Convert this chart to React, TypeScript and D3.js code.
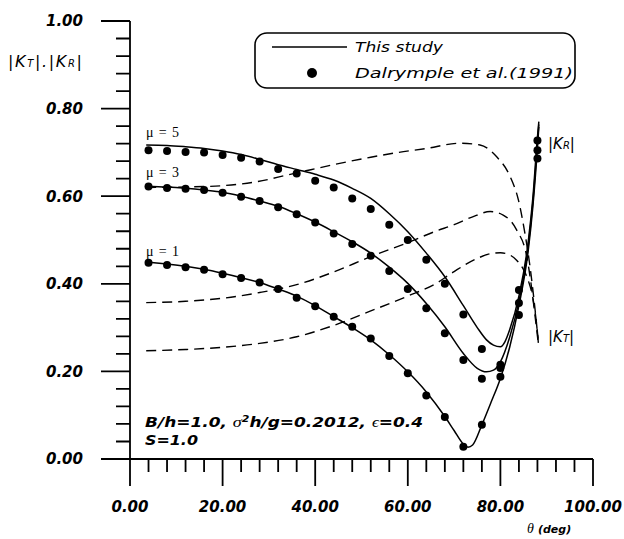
import React from "react";
import * as d3 from "d3";

// Dalrymple et al. (1991) measured points, every 4 degrees
const dotTheta = [4, 8, 12, 16, 20, 24, 28, 32, 36, 40, 44, 48, 52, 56, 60, 64, 68, 72, 76, 80, 84, 88];
const dotsMu1 = [0.448, 0.443, 0.438, 0.432, 0.422, 0.413, 0.403, 0.388, 0.368, 0.349, 0.325, 0.302, 0.275, 0.235, 0.196, 0.145, 0.096, 0.028, 0.078, 0.188, 0.329, 0.686];
const dotsMu3 = [0.622, 0.619, 0.617, 0.614, 0.608, 0.599, 0.589, 0.575, 0.559, 0.540, 0.515, 0.491, 0.464, 0.429, 0.388, 0.344, 0.287, 0.226, 0.183, 0.208, 0.356, 0.705];
const dotsMu5 = [0.705, 0.703, 0.701, 0.700, 0.694, 0.688, 0.679, 0.662, 0.652, 0.635, 0.620, 0.595, 0.571, 0.535, 0.500, 0.455, 0.400, 0.330, 0.251, 0.215, 0.386, 0.727];

// This study, |K_R| (solid)
const krTheta1 = [3.5, 8, 12, 16, 20, 24, 28, 32, 36, 40, 44, 48, 52, 56, 60, 64, 68, 70, 72, 73, 74, 76, 78, 80, 82, 84, 86, 87, 88, 88.3];
const krMu1 = [0.450, 0.445, 0.440, 0.433, 0.424, 0.414, 0.403, 0.388, 0.372, 0.350, 0.325, 0.300, 0.272, 0.238, 0.199, 0.153, 0.097, 0.065, 0.034, 0.027, 0.032, 0.078, 0.130, 0.184, 0.255, 0.350, 0.475, 0.575, 0.710, 0.758];
const krTheta3 = [3.5, 8, 12, 16, 20, 24, 28, 32, 36, 40, 44, 48, 52, 56, 60, 64, 68, 72, 75, 77, 78.5, 80, 82, 84, 86, 87, 88, 88.3];
const krMu3 = [0.623, 0.621, 0.618, 0.614, 0.609, 0.600, 0.589, 0.577, 0.560, 0.541, 0.519, 0.496, 0.470, 0.438, 0.401, 0.355, 0.302, 0.241, 0.207, 0.199, 0.203, 0.222, 0.278, 0.360, 0.485, 0.585, 0.722, 0.764];
const krTheta5 = [3.5, 8, 12, 16, 20, 24, 28, 32, 36, 40, 44, 48, 52, 56, 60, 64, 68, 72, 75, 77, 78.5, 80, 81, 82, 84, 86, 87, 88, 88.3];
const krMu5 = [0.717, 0.716, 0.713, 0.709, 0.703, 0.695, 0.684, 0.672, 0.661, 0.650, 0.637, 0.618, 0.595, 0.560, 0.519, 0.470, 0.416, 0.350, 0.300, 0.272, 0.260, 0.256, 0.268, 0.295, 0.372, 0.495, 0.595, 0.735, 0.770];

// This study, |K_T| (dashed)
const ktThetaLow = [3.5, 12, 20, 28, 36, 44, 52, 60, 66, 70, 75, 78, 80, 82, 83.5, 85, 86, 87, 87.8, 88.2];
const ktLow = [0.247, 0.250, 0.255, 0.264, 0.279, 0.305, 0.338, 0.372, 0.400, 0.428, 0.458, 0.469, 0.471, 0.466, 0.454, 0.432, 0.408, 0.368, 0.310, 0.268];
const ktThetaMid = [3.5, 12, 20, 28, 36, 44, 52, 60, 66, 70, 74, 77.8, 80.6, 83.5, 85.7, 86.8, 87.5, 88.1];
const ktMid = [0.357, 0.360, 0.367, 0.380, 0.398, 0.427, 0.462, 0.494, 0.520, 0.535, 0.553, 0.565, 0.557, 0.523, 0.462, 0.386, 0.325, 0.272];
const ktThetaHigh = [3.5, 12, 20, 27.4, 33.8, 38, 44, 52, 58, 64, 71.3, 75.6, 79.2, 82.1, 83.9, 85.3, 86.4, 87.1, 87.7, 88.2];
const ktHigh = [0.620, 0.621, 0.624, 0.633, 0.648, 0.658, 0.672, 0.689, 0.700, 0.709, 0.721, 0.717, 0.690, 0.645, 0.591, 0.515, 0.439, 0.378, 0.320, 0.265];

const xTickLabels = ["0.00", "20.00", "40.00", "60.00", "80.00", "100.00"];
const yTickLabels = ["0.00", "0.20", "0.40", "0.60", "0.80", "1.00"];

const muLabels = [
  { text: "\u03bc = 5", y: 137 },
  { text: "\u03bc = 3", y: 177 },
  { text: "\u03bc = 1", y: 256 },
];

const W = 624;
const H = 539;

const x = d3.scaleLinear().domain([0, 100]).range([130, 593]);
const y = d3.scaleLinear().domain([0, 1]).range([459, 21]);

const pairs = (t: number[], v: number[]) => t.map((d, i) => [d, v[i]] as [number, number]);

const curve = d3
  .line<[number, number]>()
  .x((d) => x(d[0]))
  .y((d) => y(d[1]))
  .curve(d3.curveMonotoneX);

const sansB = "'DejaVu Sans', sans-serif";

export default function App() {
  const xTicks = d3.range(0, 26).map((i) => i * 4);
  const yTicks = d3.range(0, 26).map((i) => i * 0.04);
  const solids = [pairs(krTheta1, krMu1), pairs(krTheta3, krMu3), pairs(krTheta5, krMu5)];
  const dashes = [pairs(ktThetaLow, ktLow), pairs(ktThetaMid, ktMid), pairs(ktThetaHigh, ktHigh)];
  const dots = [dotsMu1, dotsMu3, dotsMu5];

  // axis lines and ticks in one path
  const x0 = x(0);
  const y0 = y(0);
  let axisPath = `M${x0},${y(1)}V${y0}H${x(100)}`;
  yTicks.forEach((t, i) => {
    axisPath += `M${x0 - (i % 5 === 0 ? 29 : 14)},${y(t)}H${x0}`;
  });
  xTicks.forEach((t, i) => {
    axisPath += `M${x(t)},${y0}V${y0 + (i % 5 === 0 ? 27 : 13)}`;
  });

  return (
    <svg
      width={W}
      height={H}
      style={{ position: "absolute", left: 0, top: 0, background: "#fff" }}
    >
      <rect width={W} height={H} fill="#fff" />

      <path d={axisPath} fill="none" stroke="#000" strokeWidth={1.8} />

      <g fontFamily={sansB} fontWeight="bold" fontStyle="italic" fontSize={15}>
        {yTickLabels.map((l, i) => (
          <text key={l} x={83} y={y(i * 0.2)} dy="0.36em" textAnchor="end">
            {l}
          </text>
        ))}
        {xTickLabels.map((l, i) => (
          <text key={l} x={x(i * 20)} y={512} textAnchor="middle">
            {l}
          </text>
        ))}
      </g>

      {/* y title */}
      <text x={8} y={67} fontFamily={sansB} fontStyle="italic" fontSize={16} textLength={74} lengthAdjust="spacing">
        |K<tspan fontSize={10}>T</tspan>|.|K<tspan fontSize={10}>R</tspan>|
      </text>

      {/* x title */}
      <text x={527} y={533}>
        <tspan fontFamily="'Liberation Serif', serif" fontStyle="italic" fontSize={14}>
          {"\u03b8"}
        </tspan>
        <tspan fontFamily={sansB} fontStyle="italic" fontWeight="bold" fontSize={11} dx={4}>
          (deg)
        </tspan>
      </text>

      {/* curves */}
      <g fill="none" stroke="#000">
        {dashes.map((d, i) => (
          <path key={"kt" + i} d={curve(d) || ""} strokeWidth={1.4} strokeDasharray="10,6" />
        ))}
        {solids.map((d, i) => (
          <path key={"kr" + i} d={curve(d) || ""} strokeWidth={1.5} />
        ))}
      </g>

      <g fill="#000">
        {dots.map((vals, j) =>
          vals.map((v, i) => <circle key={`d${j}-${i}`} cx={x(dotTheta[i])} cy={y(v)} r={4} />)
        )}
      </g>

      {/* mu labels */}
      <g fontFamily="'Liberation Serif', serif" fontSize={14}>
        {muLabels.map((m) => (
          <text key={m.text} x={146} y={m.y} textLength={33} lengthAdjust="spacing">
            {m.text}
          </text>
        ))}
      </g>

      {/* curve labels */}
      <g fontFamily={sansB} fontStyle="italic" fontSize={15}>
        <text x={548} y={149}>
          |K<tspan fontSize={10}>R</tspan>|
        </text>
        <text x={548} y={342}>
          |K<tspan fontSize={10}>T</tspan>|
        </text>
      </g>

      {/* legend */}
      <rect x={255} y={33} width={320} height={55} rx={12} fill="#fff" stroke="#000" strokeWidth={1.6} />
      <line x1={272} x2={347} y1={47} y2={47} stroke="#000" strokeWidth={1.5} />
      <circle cx={312} cy={73} r={5} fill="#000" />
      <g fontFamily={sansB} fontStyle="italic" fontSize={14}>
        <text x={355} y={52} textLength={88} lengthAdjust="spacingAndGlyphs">
          This study
        </text>
        <text x={355} y={78} textLength={218} lengthAdjust="spacingAndGlyphs">
          Dalrymple et al.(1991)
        </text>
      </g>

      {/* parameters */}
      <g fontFamily={sansB} fontStyle="italic" fontWeight="bold" fontSize={14}>
        <text x={145} y={427} textLength={278} lengthAdjust="spacingAndGlyphs">
          B/h=1.0, <tspan fontFamily="'Liberation Serif', serif" fontWeight="normal" fontSize={15}>{"\u03c3"}</tspan>
          <tspan fontSize={9} dy={-5}>2</tspan>
          <tspan dy={5}>h/g=0.2012, </tspan>
          <tspan fontFamily="'Liberation Serif', serif" fontWeight="normal">{"\u03f5"}</tspan>=0.4
        </text>
        <text x={145} y={445} textLength={53} lengthAdjust="spacingAndGlyphs">
          S=1.0
        </text>
      </g>
    </svg>
  );
}
